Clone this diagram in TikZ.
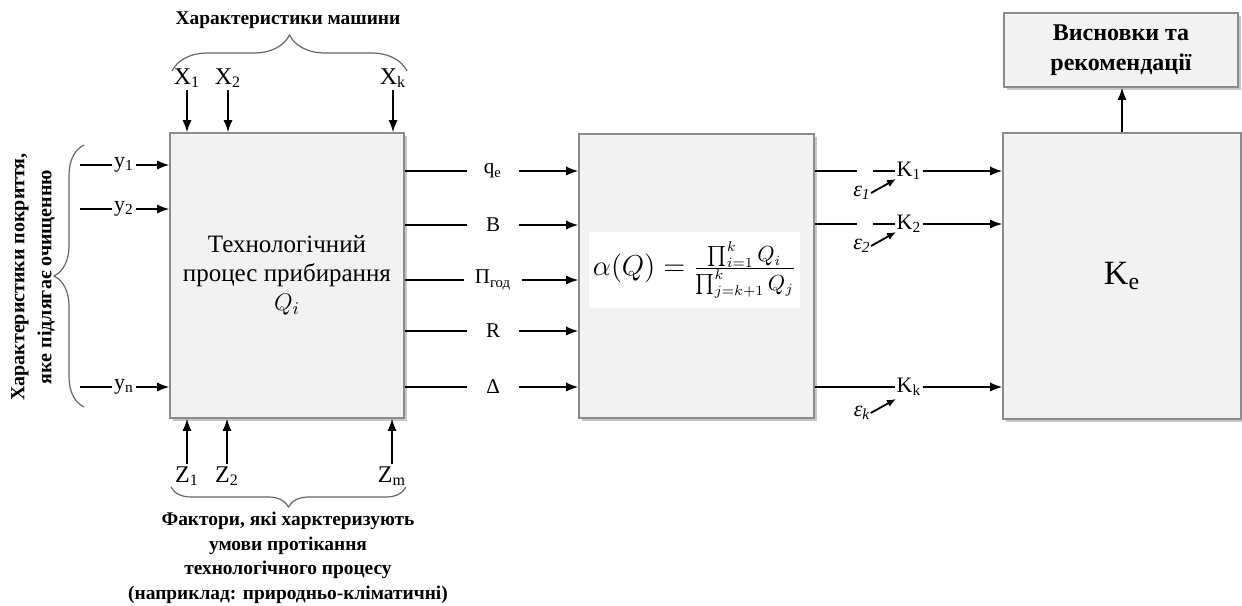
\documentclass[tikz,border=0pt]{standalone}
\usepackage{fontspec}
\setmainfont{Liberation Serif}
\usetikzlibrary{arrows.meta, positioning, decorations.pathreplacing, shadows, calc}
\definecolor{boxFill}{HTML}{F2F2F2}
\definecolor{boxLine}{HTML}{8C8C8C}

\begin{document}
\begin{tikzpicture}[x=0.5pt, y=-0.5pt,
  blk/.style={draw=boxLine, line width=0.8pt, fill=boxFill, inner sep=0pt,
    drop shadow={shadow xshift=1.3pt, shadow yshift=-1.3pt, fill=black, opacity=0.22}},
  arr/.style={-{Latex[length=6pt, width=4.5pt]}, line width=0.7pt},
  ln/.style={line width=0.7pt},
  sarr/.style={-{Latex[length=4.5pt, width=3.8pt]}, line width=0.9pt},
  lbl/.style={font=\fontsize{12}{14}\selectfont, inner sep=1pt},
  olbl/.style={font=\fontsize{10.5}{12}\selectfont, inner xsep=5pt, inner ysep=0pt, minimum width=26pt},
  klbl/.style={font=\fontsize{11}{13}\selectfont, inner sep=0.5pt},
  elbl/.style={font=\fontsize{11}{13}\selectfont\itshape, inner sep=0pt},
  note/.style={font=\bfseries\fontsize{9.7}{12.3}\selectfont, align=center},
  brc/.style={decorate, decoration={brace, amplitude=#1}, line width=0.6pt, draw=black!60},
]
  \useasboundingbox (0,0) rectangle (1242,605);
  % ---- main blocks ----
  \node[blk, minimum width=117pt, minimum height=142.5pt, align=center,
    font=\fontsize{12.5}{14.5}\selectfont] (proc) at (287,275.5)
    {Технологічний\\процес прибирання\\$Q_i$};
  \node[blk, minimum width=117.5pt, minimum height=142pt] (crit) at (696.5,276) {};
  \node[fill=white, minimum width=105.5pt, minimum height=38pt, inner sep=0pt,
    font=\fontsize{15}{18}\selectfont] (form) at (694.5,270)
    {$\alpha(Q)=\frac{\prod_{i=1}^{k}Q_i}{\prod_{j=k+1}^{k}Q_j}$};
  \node[blk, minimum width=119pt, minimum height=143pt,
    font=\fontsize{17}{20}\selectfont] (eff) at (1122,276) {K\textsubscript{e}};
  \node[blk, minimum width=117pt, minimum height=37pt, align=center,
    font=\bfseries\fontsize{12}{15}\selectfont] (concl) at (1121,50)
    {Висновки та\\рекомендації};
  \draw[arr] (eff.north) -- (eff.north |- concl.south);
  % ---- machine inputs X ----
  \foreach \n/\x/\s in {x1/187/1, x2/228/2, xk/393/k} {
    \node[lbl] (\n) at (\x,78) {X\textsubscript{\s}};
    \draw[arr] (\n) -- (\n |- proc.north);
  }
  \coordinate (bt-l) at (172,71); \coordinate (bt-r) at (407,71);
  \draw[brc=18pt] (bt-l) -- (bt-r);
  \node[note] (mach) at (288,20) {Характеристики машини};
  % ---- surface inputs y ----
  \foreach \n/\y/\s in {y1/165/1, y2/209/2, yn/387/n} {
    \coordinate (\n-s) at (80,\y);
    \node[lbl, font=\fontsize{11}{13}\selectfont] (\n) at (124,\y) {y\textsubscript{\s}};
    \draw[ln] (\n-s) -- (\n);
    \draw[arr] (\n) -- (\n -| proc.west);
  }
  \coordinate (bl-b) at (84,407); \coordinate (bl-t) at (84,145);
  \draw[brc=15pt] (bl-b) -- (bl-t);
  \node[note, rotate=90, font=\bfseries\fontsize{10}{13.5}\selectfont] (surf) at (33,277)
    {Характеристики покриття,\\яке підлягає очищенню};
  % ---- condition inputs Z ----
  \foreach \n/\x/\s in {z1/187/1, z2/227/2, zm/392/m} {
    \node[lbl] (\n) at (\x,476) {Z\textsubscript{\s}};
    \draw[arr] (\n) -- (\n |- proc.south);
  }
  \coordinate (bb-r) at (406,487); \coordinate (bb-l) at (171,487);
  \draw[brc=10pt] (bb-r) -- (bb-l);
  \node[note] (cond) at (288,558)
    {Фактори, які харктеризують\\умови протікання\\технологічного процесу\\(наприклад: природньо-кліматичні)};
  % ---- process outputs ----
  \foreach \n/\y/\t in {qe/171/q\textsubscript{e}, bw/225/B, pg/280/П\textsubscript{год}, rr/331/R, dd/387/Δ} {
    \node[olbl] (\n) at (493,\y) {\t};
    \draw[ln] (\n -| proc.east) -- (\n);
    \draw[arr] (\n) -- (\n -| crit.west);
  }
  % ---- criteria K with errors ----
  \foreach \n/\y/\s in {k1/171/1, k2/224/2} {
    \coordinate (\n-a) at (857,\y);
    \coordinate (\n-b) at (873,\y);
    \node[klbl] (\n) at (909,\y) {K\textsubscript{\s}};
    \draw[ln] (\n-a -| crit.east) -- (\n-a);
    \draw[ln] (\n-b) -- (\n);
    \draw[arr] (\n) -- (\n -| eff.west);
  }
  \node[klbl] (kk) at (909,387) {K\textsubscript{k}};
  \draw[ln] (kk -| crit.east) -- (kk);
  \draw[arr] (kk) -- (kk -| eff.west);
  \foreach \n/\y/\s in {e1/193/1, e2/246/2, ek/413/k} {
    \node[elbl] (\n) at (862,\y) {ε\textsubscript{\s}};
    \coordinate (\n-t) at (896,\y-14);
    \draw[sarr] (\n.east) -- (\n-t);
  }
\end{tikzpicture}
\end{document}
